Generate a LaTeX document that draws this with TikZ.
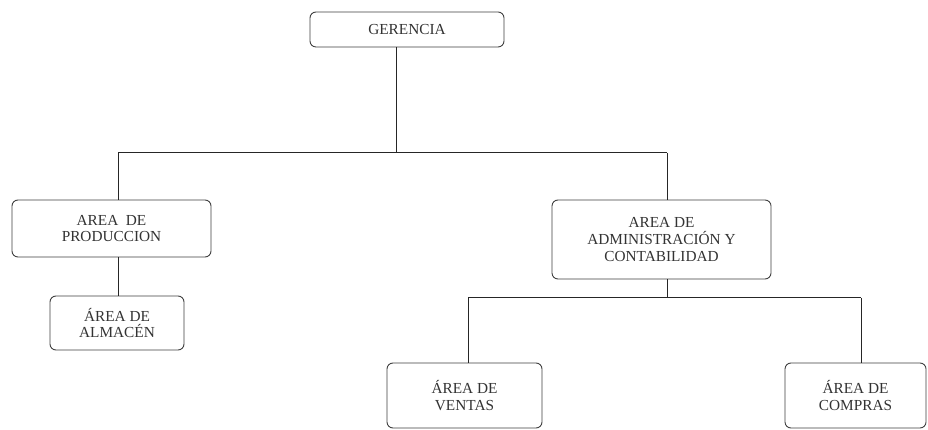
\documentclass[tikz,border=0pt]{standalone}
\usepackage{fontspec}
\setmainfont{Liberation Serif}
\begin{document}
\begin{tikzpicture}[x=1pt,y=1pt,
  orgbox/.style={draw=black!75, line width=0.9pt, rounded corners=6pt, fill=white,
    align=center, inner sep=0pt, text=black!80,
    font=\fontsize{15.3}{16.7}\selectfont},
  link/.style={draw=black!85, line width=1pt}]
\useasboundingbox (0,0) rectangle (928,430);
\fill[white] (0,0) rectangle (928,430);

% boxes
\node[orgbox, minimum width=194, minimum height=35] (ger) at (407,400.5) {GERENCIA};
\node[orgbox, minimum width=199, minimum height=57] (prod) at (111.5,201.5) {AREA\ \ DE\\PRODUCCION};
\node[orgbox, minimum width=134, minimum height=54] (alm) at (117,107) {ÁREA DE\\ALMACÉN};
\node[orgbox, minimum width=219, minimum height=79] (adm) at (661.5,190.5) {AREA DE\\ADMINISTRACIÓN Y\\CONTABILIDAD};
\node[orgbox, minimum width=155, minimum height=65] (ven) at (464.5,34.5) {ÁREA DE\\VENTAS};
\node[orgbox, minimum width=141, minimum height=65] (com) at (855.5,34.5) {ÁREA DE\\COMPRAS};

% junction points
\coordinate (jt) at (396,277);
\coordinate (jl) at (118,277);
\coordinate (jr) at (667,277);
\coordinate (kt) at (667,132);
\coordinate (kl) at (468,132);
\coordinate (kr) at (861,132);

% connectors
\draw[link] (ger.south -| jt) -- (jt);
\draw[link] (jl) -- (jr);
\draw[link] (jl) -- (jl |- prod.north);
\draw[link] (jr) -- (jr |- adm.north);
\draw[link] (jl |- prod.south) -- (jl |- alm.north);
\draw[link] (kt |- adm.south) -- (kt);
\draw[link] (kl) -- (kr);
\draw[link] (kl) -- (kl |- ven.north);
\draw[link] (kr) -- (kr |- com.north);
\end{tikzpicture}
\end{document}
